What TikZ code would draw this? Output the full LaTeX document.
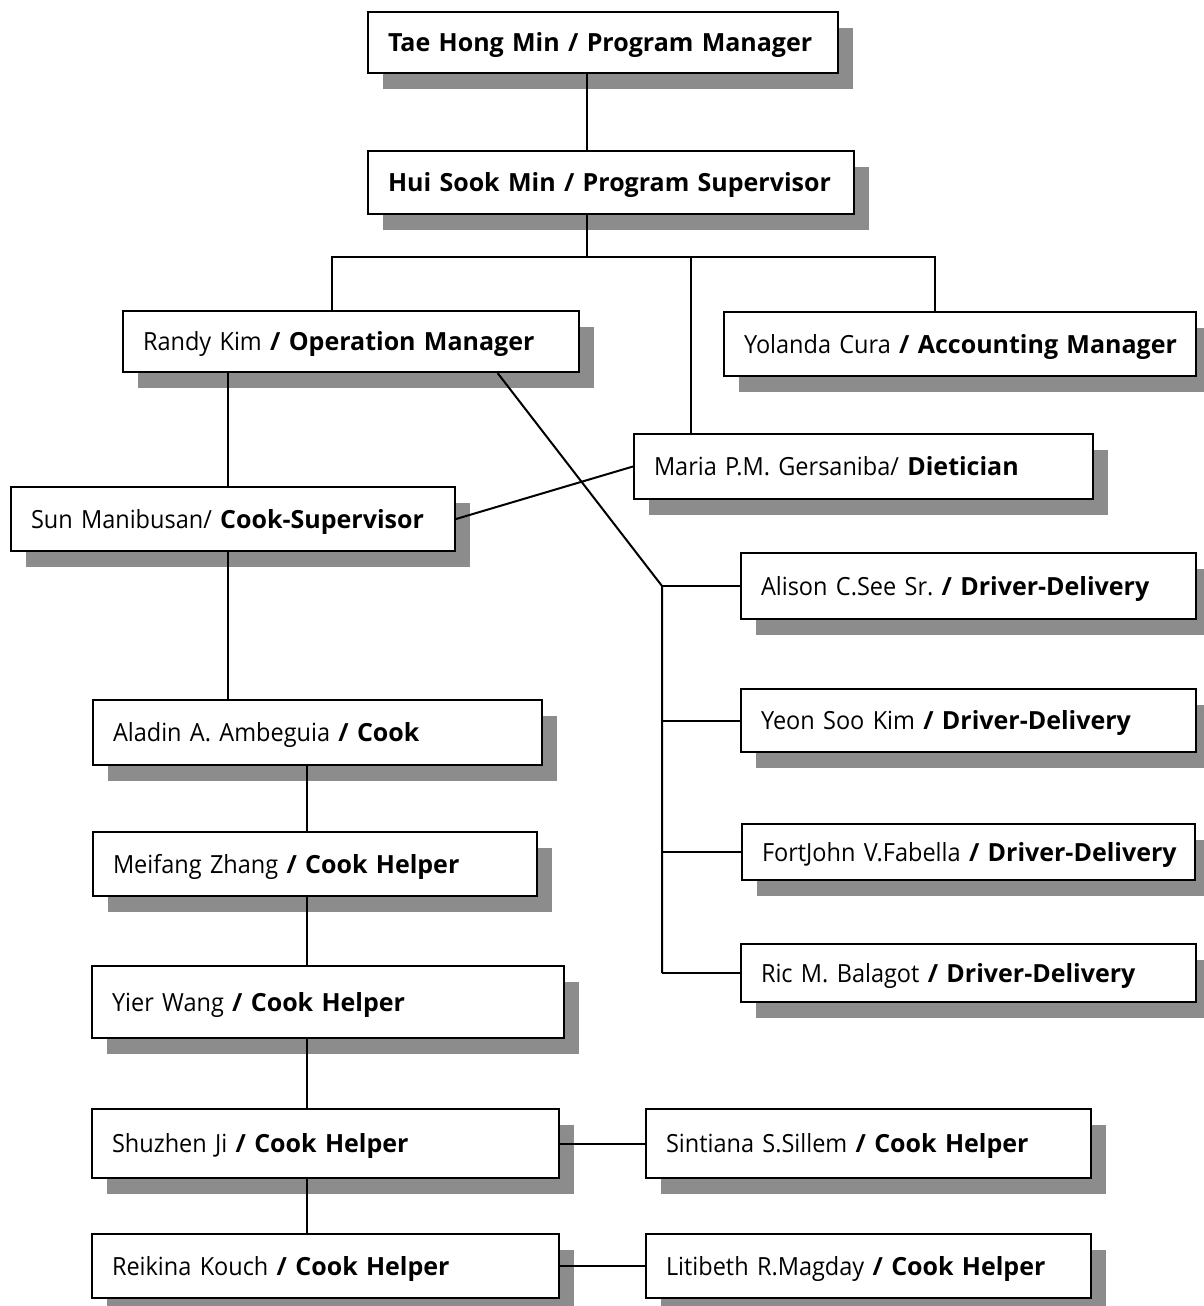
\documentclass[tikz,border=0pt]{standalone}
\usepackage{fontspec}
\setmainfont{Open Sans}[UprightFeatures={FakeStretch=0.94}]
\usetikzlibrary{shadows,calc}
\frenchspacing
\tikzset{
	staff/.style={draw,fill=white,line width=2pt,anchor=north west,align=left,inner xsep=20pt,inner ysep=0pt,
		font=\fontsize{25}{30}\selectfont,text height=18pt,text depth=0pt,
		drop shadow={shadow xshift=15pt,shadow yshift=-16pt,fill=black!45,opacity=1}},
	link/.style={line width=2pt}
}
\begin{document}
\begin{tikzpicture}[x=1pt,y=-1pt]%SO DO TO CHUC
		\useasboundingbox (0,0) rectangle (1204,1306);
		\node[staff,text width=430pt,minimum height=61pt] (tae) at (367,11) {\mbox{\textbf{Tae Hong Min / Program Manager}}};
		\node[staff,text width=446pt,minimum height=63pt] (hui) at (367,150) {\mbox{\textbf{Hui Sook Min / Program Supervisor}}};
		\node[staff,text width=416pt,minimum height=61pt] (randy) at (122,310) {\mbox{Randy Kim \textbf{/ Operation Manager}}};
		\node[staff,text width=432pt,minimum height=64pt] (yolanda) at (723,311) {\mbox{Yolanda Cura \textbf{/ Accounting Manager}}};
		\node[staff,text width=419pt,minimum height=65pt] (maria) at (633,433) {\mbox{Maria P.M. Gersaniba/ \textbf{Dietician}}};
		\node[staff,text width=404pt,minimum height=64pt] (sun) at (10,486) {\mbox{Sun Manibusan/ \textbf{Cook-Supervisor}}};
		\node[staff,text width=415pt,minimum height=66pt] (alison) at (740,552) {\mbox{Alison C.See Sr. \textbf{/ Driver-Delivery}}};
		\node[staff,text width=415pt,minimum height=63pt] (yeon) at (740,688) {\mbox{Yeon Soo Kim \textbf{/ Driver-Delivery}}};
		\node[staff,text width=413pt,minimum height=56pt] (fort) at (741,823) {\mbox{FortJohn V.Fabella \textbf{/ Driver-Delivery}}};
		\node[staff,text width=415pt,minimum height=58pt] (ric) at (740,943) {\mbox{Ric M. Balagot \textbf{/ Driver-Delivery}}};
		\node[staff,text width=409pt,minimum height=65pt] (aladin) at (92,699) {\mbox{Aladin A. Ambeguia \textbf{/ Cook}}};
		\node[staff,text width=404pt,minimum height=64pt] (meifang) at (92,831) {\mbox{Meifang Zhang \textbf{/ Cook Helper}}};
		\node[staff,text width=432pt,minimum height=72pt] (yier) at (91,965) {\mbox{Yier Wang \textbf{/ Cook Helper}}};
		\node[staff,text width=427pt,minimum height=69pt] (shuzhen) at (91,1108) {\mbox{Shuzhen Ji \textbf{/ Cook Helper}}};
		\node[staff,text width=405pt,minimum height=69pt] (sintiana) at (645,1108) {\mbox{Sintiana S.Sillem \textbf{/ Cook Helper}}};
		\node[staff,text width=427pt,minimum height=64pt] (reikina) at (91,1233) {\mbox{Reikina Kouch \textbf{/ Cook Helper}}};
		\node[staff,text width=405pt,minimum height=64pt] (litibeth) at (645,1233) {\mbox{Litibeth R.Magday \textbf{/ Cook Helper}}};
		\coordinate (stem) at (587,0);
		\coordinate (bus) at (587,257);
		\coordinate (busL) at (332,257);
		\coordinate (busM) at (691,257);
		\coordinate (busR) at (935,257);
		\coordinate (cookA) at (228,0);
		\coordinate (cookB) at (307,0);
		\coordinate (drv) at (662,0);
		\draw[link] (tae.south -| stem)--(hui.north -| stem);
		\draw[link] (hui.south -| bus)--(bus);
		\draw[link] (randy.north -| busL)--(busL)--(busR)--(yolanda.north -| busR);
		\draw[link] (busM)--(maria.north -| busM);
		\draw[link] (randy.south -| cookA)--(sun.north -| cookA);
		\draw[link] (sun.south -| cookA)--(aladin.north -| cookA);
		\draw[link] (sun.east)--(maria.west);
		\draw[link] ($(randy.south west)!.82!(randy.south east)$)--(alison.west -| drv)--(ric.west -| drv);
		\foreach \n in {alison,yeon,fort,ric}
		\draw[link] (\n.west)--(\n.west -| drv);
		\foreach \a/\b in {aladin/meifang,meifang/yier,yier/shuzhen,shuzhen/reikina}
		\draw[link] (\a.south -| cookB)--(\b.north -| cookB);
		\draw[link] (shuzhen.east)--(sintiana.west) (reikina.east)--(litibeth.west);
		\end{tikzpicture}
\end{document}
